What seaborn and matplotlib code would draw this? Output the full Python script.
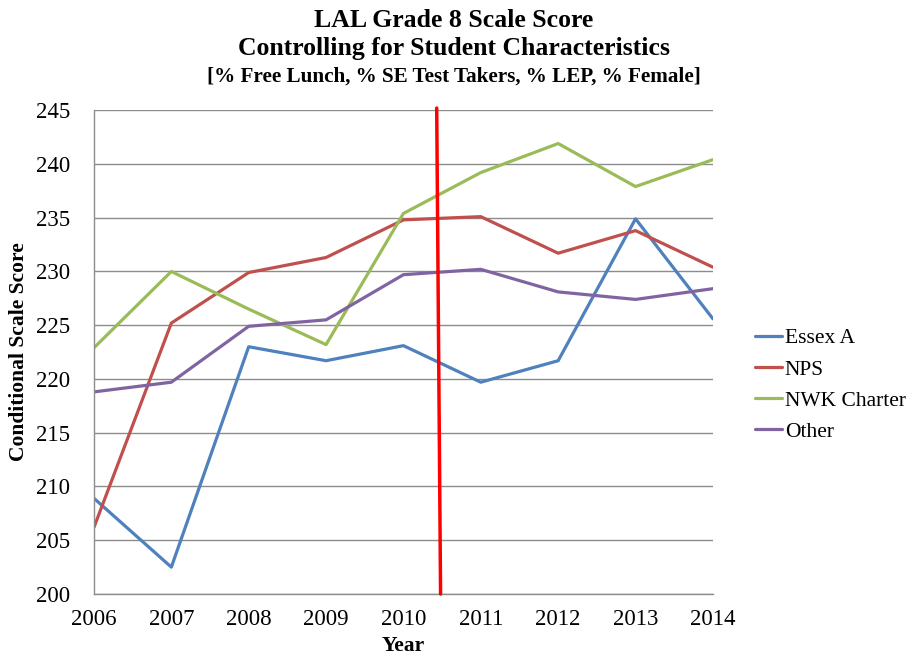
import pandas as pd
import seaborn as sns
import matplotlib.pyplot as plt

# values
years = [2006, 2007, 2008, 2009, 2010, 2011, 2012, 2013, 2014]
essex_a = [208.9, 202.5, 223.0, 221.7, 223.1, 219.7, 221.7, 234.9, 225.6]
nps = [206.2, 225.2, 229.9, 231.3, 234.8, 235.1, 231.7, 233.8, 230.4]
nwk_charter = [222.9, 230.0, 226.5, 223.2, 235.4, 239.2, 241.9, 237.9, 240.4]
other = [218.8, 219.7, 224.9, 225.5, 229.7, 230.2, 228.1, 227.4, 228.4]
series_names = ['Essex A', 'NPS', 'NWK Charter', 'Other']

# the red divider drawn by hand in the original (slightly slanted)
divider_x = [2010.48, 2010.43]
divider_y = [200, 245.2]

colors = {'Essex A': '#4F81BD', 'NPS': '#C0504D',
          'NWK Charter': '#9BBB59', 'Other': '#8064A2'}

frames = []
for name, vals in zip(series_names, [essex_a, nps, nwk_charter, other]):
    frames.append(pd.DataFrame({'Year': years, 'score': vals, 'school': name}))
df = pd.concat(frames)

sns.set_style("white")
plt.rcParams['font.family'] = ['Liberation Serif', 'DejaVu Serif']
plt.rcParams['text.color'] = 'black'
plt.rcParams['axes.labelcolor'] = 'black'
plt.rcParams['xtick.color'] = 'black'
plt.rcParams['ytick.color'] = 'black'

fig = plt.figure(figsize=(9.07, 6.56), dpi=100)
ax = fig.add_axes([0.1036, 0.0945, 0.6824, 0.7375])

sns.lineplot(data=df, x='Year', y='score', hue='school', palette=colors,
             hue_order=series_names, linewidth=2.3, ax=ax, legend=True)
ax.plot(divider_x, divider_y, color='#FF0000', linewidth=2.5, clip_on=False, zorder=5)

ax.set_xlim(2006, 2014)
ax.set_ylim(200, 245)
ax.set_yticks(range(200, 246, 5))
ax.set_xticks(years)
ax.tick_params(axis='y', labelsize=16.5, length=0, pad=17)
ax.tick_params(axis='x', labelsize=16.5, length=0, pad=11)
ax.yaxis.grid(True, color='#8C8C8C', linewidth=1)
ax.xaxis.grid(False)
for side in ['top', 'right']:
    ax.spines[side].set_visible(False)
for side in ['left', 'bottom']:
    ax.spines[side].set_color('#8C8C8C')
    ax.spines[side].set_linewidth(1)

ax.set_xlabel('Year', fontsize=15.5, fontweight='bold', labelpad=4)
ax.set_ylabel('Conditional Scale Score', fontsize=15.5, fontweight='bold', labelpad=5)

leg = ax.legend(loc='center left', bbox_to_anchor=(1.037, 0.432), frameon=False,
                fontsize=15.5, handlelength=1.25, handletextpad=0.12, labelspacing=0.51)
for line in leg.get_lines():
    line.set_linewidth(2.3)

fig.text(0.5, 0.968, 'LAL Grade 8 Scale Score', ha='center', va='center',
         fontsize=18.5, fontweight='bold')
fig.text(0.5, 0.926, 'Controlling for Student Characteristics', ha='center', va='center',
         fontsize=18.5, fontweight='bold')
fig.text(0.5, 0.883, '[% Free Lunch, % SE Test Takers, % LEP, % Female]', ha='center',
         va='center', fontsize=15.2, fontweight='bold')

plt.savefig('out.png', dpi=100)
